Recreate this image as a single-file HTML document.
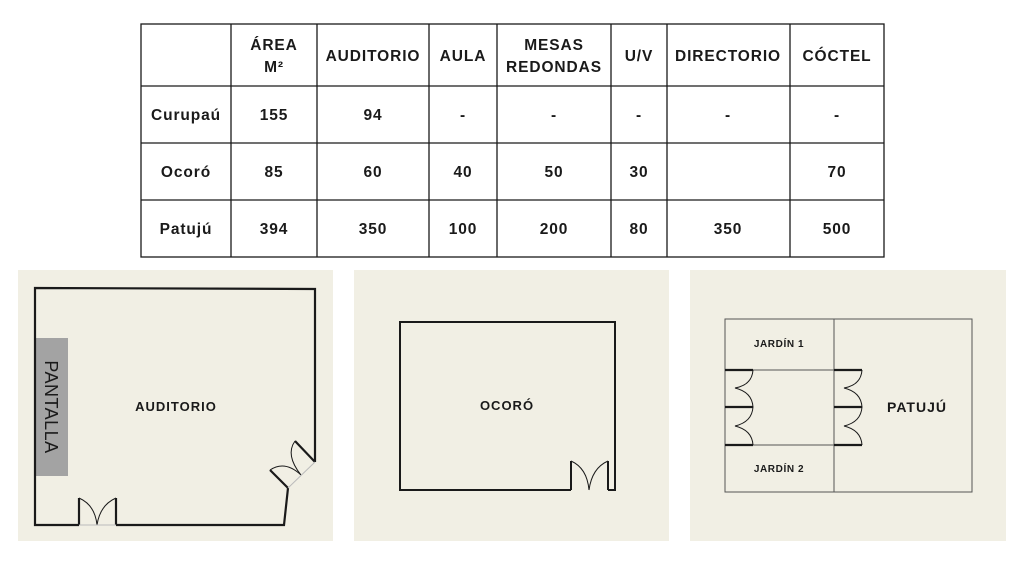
<!DOCTYPE html>
<html><head><meta charset="utf-8"><style>
body{margin:0;width:1024px;height:576px;background:#fff;overflow:hidden}
svg{display:block}
text{font-family:"Liberation Sans",sans-serif;font-weight:bold;fill:#1a1a1a}
.t text{letter-spacing:0.9px}
</style></head><body>
<svg width="1024" height="576" viewBox="0 0 1024 576">
<!-- table -->
<g stroke="#1a1a1a" stroke-width="1.3" fill="none">
<rect x="141" y="24" width="743" height="233"/>
<line x1="141" y1="86" x2="884" y2="86"/>
<line x1="141" y1="143" x2="884" y2="143"/>
<line x1="141" y1="200" x2="884" y2="200"/>
<line x1="231" y1="24" x2="231" y2="257"/>
<line x1="317" y1="24" x2="317" y2="257"/>
<line x1="429" y1="24" x2="429" y2="257"/>
<line x1="497" y1="24" x2="497" y2="257"/>
<line x1="611" y1="24" x2="611" y2="257"/>
<line x1="667" y1="24" x2="667" y2="257"/>
<line x1="790" y1="24" x2="790" y2="257"/>
</g>
<g class="t" font-size="15.5" text-anchor="middle">
<text x="274" y="50">ÁREA</text><text x="274" y="72">M²</text>
<text x="373" y="61">AUDITORIO</text>
<text x="463" y="61">AULA</text>
<text x="554" y="50">MESAS</text><text x="554" y="72">REDONDAS</text>
<text x="639" y="61">U/V</text>
<text x="728" y="61">DIRECTORIO</text>
<text x="837" y="61">CÓCTEL</text>
<text x="186" y="120">Curupaú</text><text x="274" y="120">155</text><text x="373" y="120">94</text><text x="463" y="120">-</text><text x="554" y="120">-</text><text x="639" y="120">-</text><text x="728" y="120">-</text><text x="837" y="120">-</text>
<text x="186" y="177">Ocoró</text><text x="274" y="177">85</text><text x="373" y="177">60</text><text x="463" y="177">40</text><text x="554" y="177">50</text><text x="639" y="177">30</text><text x="837" y="177">70</text>
<text x="186" y="234">Patujú</text><text x="274" y="234">394</text><text x="373" y="234">350</text><text x="463" y="234">100</text><text x="554" y="234">200</text><text x="639" y="234">80</text><text x="728" y="234">350</text><text x="837" y="234">500</text>
</g>
<!-- panels -->
<rect x="18" y="270" width="315" height="271" fill="#f1efe4"/>
<rect x="354" y="270" width="315" height="271" fill="#f1efe4"/>
<rect x="690" y="270" width="316" height="271" fill="#f1efe4"/>
<!-- auditorio -->
<rect x="35" y="338" width="33" height="138" fill="#a3a3a3"/>
<g stroke="#1a1a1a" stroke-width="2.2" fill="none">
<polyline points="79,525 35,525 35,288 315,289 315,462"/>
<polyline points="116,525 284,525 288,488"/>
<line x1="79" y1="525" x2="79" y2="498"/>
<line x1="116" y1="525" x2="116" y2="498"/>
<line x1="315" y1="462" x2="295" y2="441"/>
<line x1="288" y1="488" x2="270" y2="470"/>
</g>
<g stroke="#1a1a1a" stroke-width="1" fill="none">
<path d="M79,498 Q95,505 97,525"/><path d="M116,498 Q100,505 97,525"/>
<path d="M295,441 Q285,455 301,475"/><path d="M270,470 Q285,460 301,475"/>
<line x1="79" y1="525" x2="116" y2="525" stroke="#bbb"/>
<line x1="315" y1="462" x2="288" y2="488" stroke="#bbb"/>
</g>
<text x="45" y="407" font-size="18" transform="rotate(90 45 407)" text-anchor="middle" style="font-weight:normal;letter-spacing:0.5px">PANTALLA</text>
<text x="176" y="411" font-size="13" text-anchor="middle" style="letter-spacing:1px">AUDITORIO</text>
<!-- ocoro -->
<g stroke="#1a1a1a" stroke-width="2" fill="none">
<polyline points="571,490 400,490 400,322 615,322 615,490 608,490"/>
<line x1="571" y1="490" x2="571" y2="461"/>
<line x1="608" y1="490" x2="608" y2="461"/>
</g>
<g stroke="#1a1a1a" stroke-width="1" fill="none">
<path d="M571,461 Q587,468 589,490"/><path d="M608,461 Q592,468 589,490"/>
</g>
<text x="507" y="410" font-size="13" text-anchor="middle" style="letter-spacing:1px">OCORÓ</text>
<!-- patuju -->
<g stroke="#555" stroke-width="1" fill="none">
<rect x="725" y="319" width="247" height="173"/>
<line x1="834" y1="319" x2="834" y2="492"/>
<line x1="725" y1="370" x2="834" y2="370"/>
<line x1="725" y1="445" x2="834" y2="445"/>
</g>
<g stroke="#1a1a1a" stroke-width="2.2">
<line x1="725" y1="370" x2="753" y2="370"/><line x1="725" y1="407" x2="753" y2="407"/><line x1="725" y1="445" x2="753" y2="445"/>
<line x1="834" y1="370" x2="862" y2="370"/><line x1="834" y1="407" x2="862" y2="407"/><line x1="834" y1="445" x2="862" y2="445"/>
</g>
<g stroke="#1a1a1a" stroke-width="1" fill="none">
<path d="M753,370 Q752,385 735,388 Q752,392 753,407 Q752,422 735,426 Q752,430 753,445"/>
<path d="M862,370 Q861,385 844,388 Q861,392 862,407 Q861,422 844,426 Q861,430 862,445"/>
</g>
<text x="779" y="347" font-size="10" text-anchor="middle" style="letter-spacing:0.6px">JARDÍN 1</text>
<text x="779" y="472" font-size="10" text-anchor="middle" style="letter-spacing:0.6px">JARDÍN 2</text>
<text x="917" y="412" font-size="14" text-anchor="middle" style="letter-spacing:1px">PATUJÚ</text>
</svg>
</body></html>
